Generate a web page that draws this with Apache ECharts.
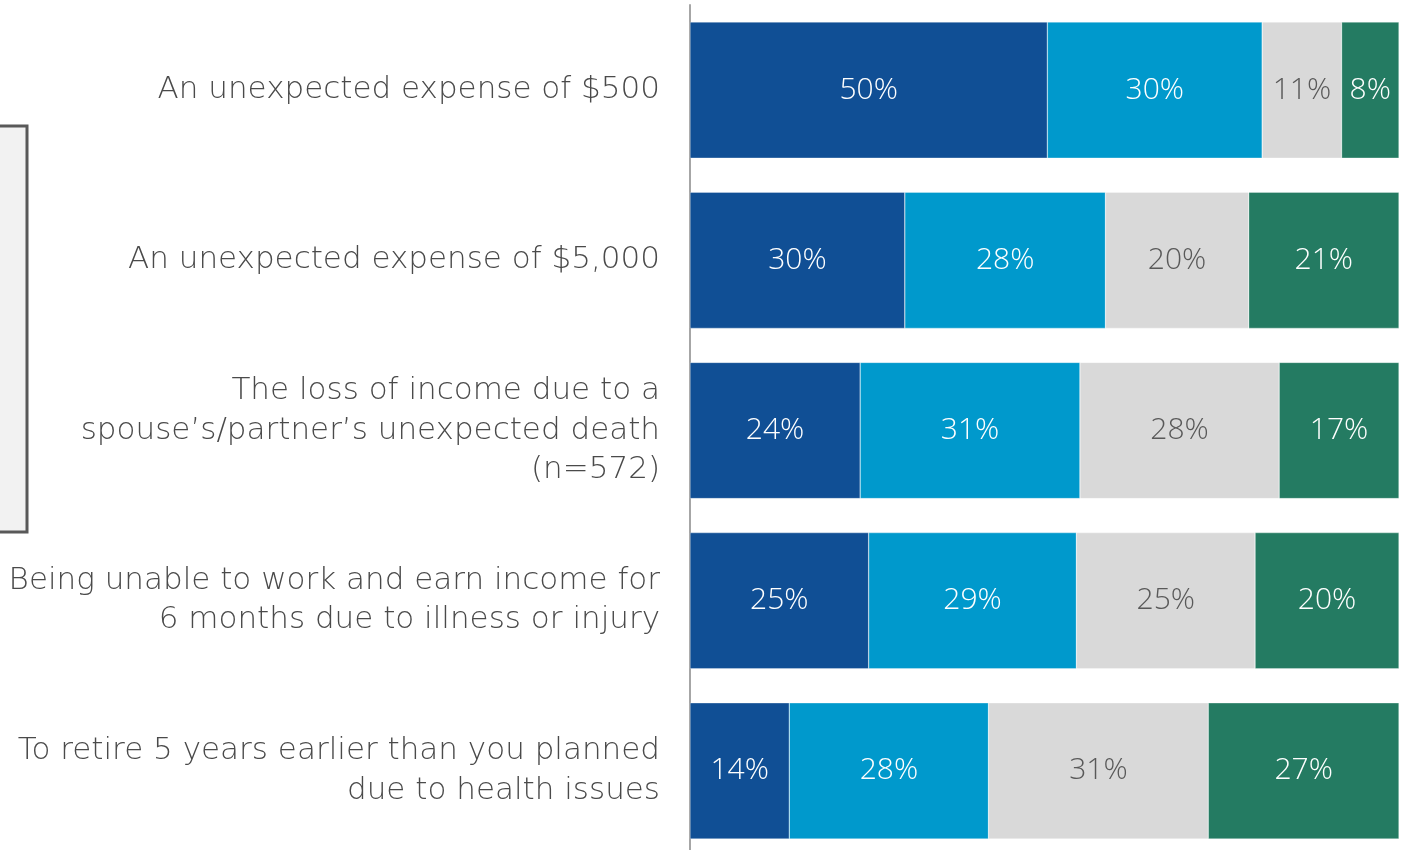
<!DOCTYPE html>
<html>
<head>
<meta charset="utf-8">
<script src="https://cdn.jsdelivr.net/npm/echarts@6/dist/echarts.min.js"></script>
<style>
  html, body { margin: 0; padding: 0; background: #fff; }
  #chart { width: 1403px; height: 850px; }
</style>
</head>
<body>
<div id="chart"></div>
<script>
// categories, top to bottom
const categories = [
  'An unexpected expense of $500',
  'An unexpected expense of $5,000',
  'The loss of income due to a\nspouse\u2019s/partner\u2019s unexpected death\n(n=572)',
  'Being unable to work and earn income for\n6 months due to illness or injury',
  'To retire 5 years earlier than you planned\ndue to health issues'
]

// segment values (%)
const seriesA = [50.4, 30.3, 24.0, 25.2, 14.0]
const seriesB = [30.3, 28.3, 31.0, 29.3, 28.1]
const seriesC = [11.2, 20.2, 28.1, 25.2, 31.0]
const seriesD = [8.1, 21.2, 16.9, 20.3, 26.9]

const colors = ['#104f95', '#0099cc', '#d9d9d9', '#247b62']
const labelColors = ['#fff', '#fff', '#595959', '#fff']

const chart = echarts.init(document.getElementById('chart'))

function makeSeries (name, data, i) {
  return {
    name: name,
    type: 'bar',
    stack: 'total',
    barCategoryGap: '20%',
    data: data,
    itemStyle: { color: colors[i], borderColor: 'rgba(255,255,255,0.6)', borderWidth: 0.5 },
    label: {
      show: true,
      position: 'inside',
      color: labelColors[i],
      fontFamily: 'Open Sans',
      fontWeight: 300,
      fontSize: 30,
      formatter: p => Math.round(p.value) + '%'
    }
  }
}

const option = {
  animation: false,
  graphic: [
    {
      type: 'rect',
      shape: { x: -10, y: 126, width: 37, height: 406 },
      style: { fill: '#f2f2f2', stroke: '#595959', lineWidth: 3 }
    }
  ],
  grid: {
    left: 690,
    right: 4,
    top: 5,
    height: 851,
    outerBoundsMode: 'none'
  },
  xAxis: {
    type: 'value',
    min: 0,
    max: 100,
    show: false
  },
  yAxis: {
    type: 'category',
    inverse: true,
    data: categories,
    axisTick: { show: false },
    axisLine: { show: true, lineStyle: { color: '#a6a6a6', width: 2 } },
    axisLabel: {
      margin: 30,
      color: '#4a4a4a',
      fontFamily: 'DejaVu Sans',
      fontWeight: 200,
      fontSize: 31,
      lineHeight: 39.5,
      align: 'right'
    }
  },
  series: [
    makeSeries('A', seriesA, 0),
    makeSeries('B', seriesB, 1),
    makeSeries('C', seriesC, 2),
    makeSeries('D', seriesD, 3)
  ]
}

chart.setOption(option)
</script>
</body>
</html>
